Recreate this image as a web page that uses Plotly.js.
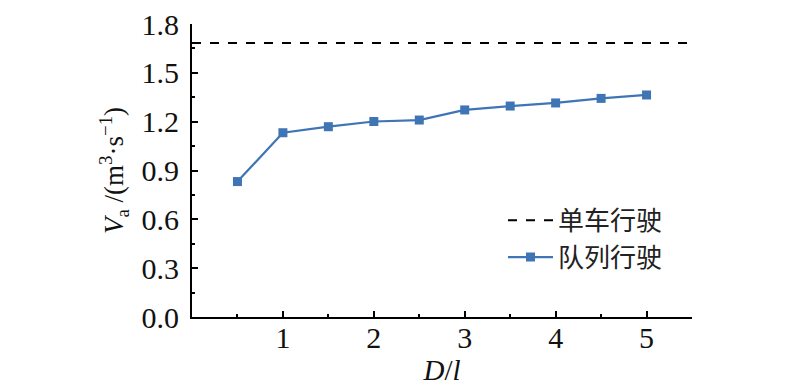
<!DOCTYPE html>
<html><head><meta charset="utf-8">
<script src="https://cdn.plot.ly/plotly-3.0.1.min.js"></script>
<style>body{margin:0;background:#fff}#chart{width:800px;height:390px}</style>
</head><body><div id="chart"></div>
<script>
const xVals = [0.5, 1, 1.5, 2, 2.5, 3, 3.5, 4, 4.5, 5];
const platoonVa = [0.832, 1.132, 1.169, 1.201, 1.210, 1.272, 1.296, 1.315, 1.343, 1.364];
const singleVa = 1.684;
const singleX = [0, 5.5];
const xTickVals = [1, 2, 3, 4, 5];
const seriesNames = ['单车行驶', '队列行驶'];

const serif = 'Liberation Serif, Times New Roman, serif';
const traces = [
  {x: singleX, y: singleX.map(() => singleVa), mode: 'lines', name: seriesNames[0],
   line: {color: '#000', width: 2, dash: 'dash'}},
  {x: xVals, y: platoonVa, mode: 'lines+markers', name: seriesNames[1],
   line: {color: '#3f74b5', width: 2.2}, marker: {symbol: 'square', size: 9, color: '#3f74b5'}}
];
const layout = {
  width: 800, height: 390,
  margin: {l: 192, r: 108, t: 24, b: 73},
  paper_bgcolor: '#fff', plot_bgcolor: '#fff',
  showlegend: true,
  legend: {x: 0.622, y: 0.41, xanchor: 'left', yanchor: 'top', bgcolor: 'rgba(0,0,0,0)',
    font: {family: 'Noto Sans CJK SC', size: 26, color: '#222'}, itemwidth: 45, tracegroupgap: 0},
  xaxis: {range: [0, 5.5], tickmode: 'array', tickvals: xTickVals, ticks: 'inside', ticklen: 6, tickwidth: 2,
    tickcolor: '#000', showline: true, linewidth: 2, linecolor: '#000', showgrid: false, zeroline: false,
    ticklabelstandoff: -7,
    tickfont: {family: serif, size: 30, color: '#111'},
    minor: {tickmode: 'array', tickvals: [0.5, 1.5, 2.5, 3.5, 4.5, 5.5], ticks: 'inside', ticklen: 3, tickwidth: 2, tickcolor: '#000', showgrid: false},
    title: {text: '<i>D</i>/<i>l</i>', font: {family: serif, size: 29, color: '#111'}, standoff: 2}},
  yaxis: {range: [0, 1.8], dtick: 0.3, tick0: 0, tickformat: '.1f', ticks: 'inside', ticklen: 6, tickwidth: 2,
    tickcolor: '#000', showline: true, linewidth: 2, linecolor: '#000', showgrid: false, zeroline: false,
    ticklabelstandoff: 5,
    tickfont: {family: serif, size: 30, color: '#111'},
    minor: {dtick: 0.15, ticks: 'inside', ticklen: 3, tickwidth: 2, tickcolor: '#000', showgrid: false},
    title: {text: '<i>V</i><sub>a</sub> /(m<sup>3</sup>·s<sup>−1</sup>)', font: {family: serif, size: 27, color: '#111'}, standoff: 10}}
};
Plotly.newPlot('chart', traces, layout, {staticPlot: true, displayModeBar: false});
</script></body></html>
